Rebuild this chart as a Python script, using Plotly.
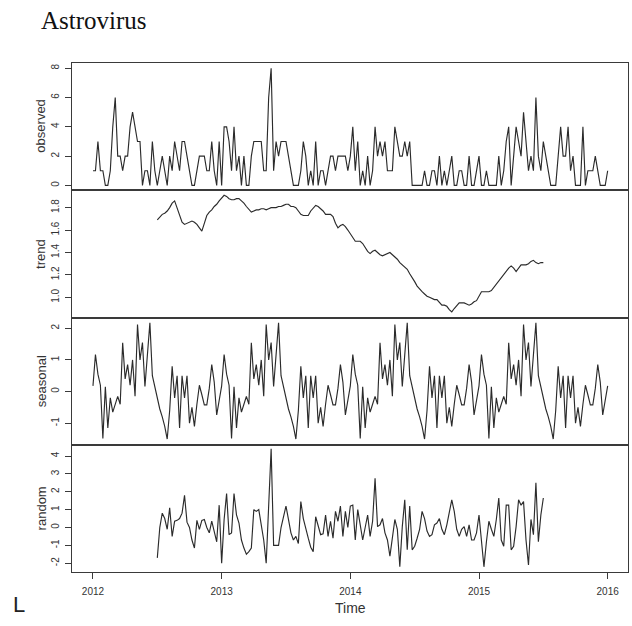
import plotly.graph_objects as go
from plotly.subplots import make_subplots

# ---------------- data (weekly series, frequency 52, starting 2012) ----------------
start_year = 2012
freq = 52

observed = [
    1, 1, 3, 1, 1, 0, 0, 1, 4, 6,
    2, 2, 1, 2, 2, 4, 5, 4, 3, 3,
    0, 1, 1, 0, 3, 1, 0, 1, 2, 1,
    0, 2, 1, 3, 2, 1, 3, 3, 2, 1,
    0, 0, 1, 2, 2, 2, 1, 1, 3, 1,
    0, 3, 0, 4, 4, 3, 1, 4, 1, 2,
    0, 2, 0, 0, 2, 3, 3, 3, 3, 1,
    1, 6, 8, 1, 3, 2, 3, 3, 3, 2,
    1, 0, 0, 0, 1, 3, 2, 0, 1, 0,
    3, 0, 1, 1, 0, 1, 2, 2, 1, 2,
    2, 2, 2, 1, 2, 4, 1, 3, 0, 1,
    0, 2, 0, 1, 4, 2, 3, 2, 3, 1,
    1, 1, 4, 3, 2, 2, 3, 2, 3, 0,
    0, 0, 0, 0, 1, 0, 0, 1, 1, 0,
    2, 0, 1, 0, 1, 2, 0, 0, 1, 1,
    0, 0, 2, 0, 0, 1, 2, 0, 0, 1,
    0, 0, 0, 0, 2, 0, 1, 3, 4, 0,
    2, 4, 3, 2, 5, 3, 1, 2, 1, 6,
    2, 1, 3, 2, 1, 0, 0, 0, 2, 4,
    2, 2, 4, 1, 2, 0, 0, 0, 4, 0,
    1, 1, 1, 2, 1, 0, 0, 0, 1,
]

trend_start = 26
trend = [
    1.69, 1.72, 1.74, 1.75, 1.77, 1.80, 1.84, 1.86, 1.80, 1.73,
    1.67, 1.65, 1.66, 1.67, 1.68, 1.67, 1.65, 1.62, 1.59, 1.66,
    1.73, 1.76, 1.78, 1.81, 1.83, 1.86, 1.89, 1.91, 1.90, 1.88,
    1.87, 1.87, 1.88, 1.88, 1.86, 1.84, 1.81, 1.78, 1.76, 1.77,
    1.78, 1.78, 1.79, 1.79, 1.78, 1.79, 1.80, 1.80, 1.80, 1.81,
    1.81, 1.82, 1.83, 1.83, 1.81, 1.81, 1.80, 1.77, 1.74, 1.73,
    1.73, 1.73, 1.77, 1.80, 1.82, 1.81, 1.79, 1.77, 1.74, 1.74,
    1.74, 1.72, 1.66, 1.62, 1.64, 1.65, 1.63, 1.60, 1.57, 1.53,
    1.50, 1.50, 1.50, 1.48, 1.44, 1.41, 1.39, 1.41, 1.42, 1.40,
    1.38, 1.37, 1.38, 1.39, 1.40, 1.38, 1.36, 1.34, 1.31, 1.29,
    1.27, 1.25, 1.21, 1.18, 1.14, 1.10, 1.07, 1.05, 1.03, 1.01,
    1.00, 0.99, 0.98, 0.98, 0.95, 0.93, 0.93, 0.92, 0.89, 0.87,
    0.90, 0.93, 0.95, 0.95, 0.95, 0.94, 0.93, 0.94, 0.96, 0.97,
    1.01, 1.05, 1.05, 1.05, 1.05, 1.06, 1.09, 1.12, 1.14, 1.18,
    1.21, 1.24, 1.26, 1.28, 1.26, 1.23, 1.26, 1.29, 1.29, 1.29,
    1.30, 1.32, 1.33, 1.31, 1.30, 1.31, 1.31,
]

# one period of the seasonal figure (52 weeks); the component repeats it
seasonal_figure = [
    0.18, 1.17, 0.55, 0.20, -1.48, 0.15, -1.15, -0.20, -0.65, -0.40,
    -0.15, -0.40, 1.54, 0.40, 0.85, 0.20, 1.00, -0.15, 2.12, 1.00,
    1.55, 0.16, 1.10, 2.17, 0.50, 0.15, -0.30, -0.55, -0.80, -1.10,
    -1.50, -0.60, 0.80, -0.20, 0.50, -1.15, 0.50, -0.20, 0.50, -1.00,
    -0.50, -1.10, -0.40, 0.20, -0.10, -0.42, -0.42, 0.10, 0.85, 0.30,
    -0.74, -0.20,
]

random_start = 26
random_part = [
    -1.70, 0.00, 0.80, 0.50, -0.10, 1.10, -0.50, 0.35, 0.40, 0.50,
    0.80, 1.80, 0.30, 0.00, -0.70, -1.15, 0.40, -0.10, 0.40, 0.45,
    0.00, -0.30, 0.35, -0.20, -0.80, 1.25, -2.00, 0.45, 1.90, -0.40,
    -0.30, 1.90, 0.70, 0.25, -0.70, -1.15, -1.50, -1.35, -1.15, 1.00,
    0.90, 1.00, 0.05, -0.70, -2.00, 1.50, 4.40, -1.00, -1.00, -1.00,
    0.00, 0.60, 1.20, 0.45, -0.30, -0.70, -0.50, -0.90, 1.45, 0.50,
    -0.10, -0.60, -1.10, -1.35, 0.60, 0.15, -0.40, -0.35, 0.70, -0.50,
    0.35, -0.60, 0.90, 0.35, 1.20, -0.50, 0.90, 0.00, 1.20, 1.25,
    -0.70, 1.00, 0.15, -0.70, 0.00, 0.70, -0.50, 0.35, 2.75, 0.05,
    0.15, 0.50, -0.30, -0.70, -1.60, -0.70, 0.45, -0.10, -2.20, 0.05,
    1.55, -1.25, 1.20, -1.25, -1.05, -0.60, -0.10, 0.90, 0.50, -0.20,
    -0.50, -0.40, 0.15, 0.25, 0.50, -0.10, -0.40, 0.15, 0.90, 1.55,
    0.90, -0.10, -0.50, -0.10, 0.05, -0.50, 0.15, -0.70, -0.70, -0.30,
    0.70, -0.70, -2.20, -0.80, 0.35, -0.10, -0.50, 0.45, 1.65, -0.70,
    -1.05, 1.25, 1.25, -1.25, -1.05, 0.05, 1.55, 1.25, 1.45, -0.70,
    -2.10, 0.45, -0.40, 2.50, -0.80, 0.70, 1.65,
]

x_ticks = [2012, 2013, 2014, 2015, 2016]
panel_names = ["observed", "trend", "seasonal", "random"]
y_ticks = [
    [0, 2, 4, 6, 8],
    [1.0, 1.2, 1.4, 1.6, 1.8],
    [-1, 0, 1, 2],
    [-2, -1, 0, 1, 2, 3, 4],
]
y_tick_text = [
    ["0", "2", "4", "6", "8"],
    ["1.0", "1.2", "1.4", "1.6", "1.8"],
    ["-1", "0", "1", "2"],
    ["-2", "-1", "0", "1", "2", "3", "4"],
]
y_ranges = [[-0.33, 8.36], [0.82, 1.955], [-1.68, 2.34], [-2.49, 4.63]]

# ---------------- build series on the time axis ----------------
n = len(observed)
t = [start_year + i / freq for i in range(n)]
t_trend = t[trend_start:trend_start + len(trend)]
t_random = t[random_start:random_start + len(random_part)]
seasonal = [seasonal_figure[i % freq] for i in range(n)]

series = [(t, observed), (t_trend, trend), (t, seasonal), (t_random, random_part)]

W, H = 632, 626
ML, MR, MT, MB = 72, 4, 63, 54
PW, PH = W - ML - MR, H - MT - MB

fig = make_subplots(rows=4, cols=1, shared_xaxes=True, vertical_spacing=0)
line_col = "#2b2b2b"
axis_col = "#3a3a3a"
tick_font = dict(family="Arial, Liberation Sans", size=10, color="#333")
for k, (xs, ys) in enumerate(series):
    fig.add_trace(
        go.Scatter(x=xs, y=ys, mode="lines", line=dict(color=line_col, width=1.15),
                   showlegend=False, hoverinfo="skip"),
        row=k + 1, col=1,
    )
    fig.update_yaxes(
        row=k + 1, col=1, range=y_ranges[k], tickvals=y_ticks[k], ticktext=y_tick_text[k],
        tickangle=-90, ticks="outside", ticklen=6, tickwidth=1, tickcolor=axis_col,
        showline=True, linecolor=axis_col, linewidth=1, mirror=True,
        showgrid=False, zeroline=False, automargin=False, ticklabelstandoff=2,
        tickfont=dict(family="Arial, Liberation Sans", size=10, color="#333"),
    )
    fig.update_xaxes(
        row=k + 1, col=1, range=[2011.837, 2016.158], showline=True, linecolor=axis_col,
        linewidth=1, mirror=True, showgrid=False, zeroline=False, automargin=False,
        tickvals=x_ticks, ticktext=[str(v) for v in x_ticks],
        ticks="outside" if k == 3 else "", ticklen=6, tickcolor=axis_col,
        showticklabels=(k == 3), ticklabelstandoff=4,
        tickfont=tick_font,
    )

# panel titles on the left
for k, name in enumerate(panel_names):
    yc = MT + (k + 0.5) * PH / 4
    fig.add_annotation(
        text=name, xref="paper", yref="paper",
        x=(41 - ML) / PW, y=1 - (yc - MT) / PH, textangle=-90,
        xanchor="center", yanchor="middle", showarrow=False,
        font=dict(family="Arial, Liberation Sans", size=13, color="#333"),
    )

fig.add_annotation(
    text="Astrovirus", xref="paper", yref="paper",
    x=(39 - ML) / PW, y=1 + (MT - 21) / PH, xanchor="left", yanchor="middle",
    showarrow=False, font=dict(family="Liberation Serif, Times New Roman", size=25, color="#111"),
)
fig.add_annotation(
    text="Time", xref="paper", yref="paper",
    x=0.5, y=-(608 - (H - MB)) / PH, xanchor="center", yanchor="middle",
    showarrow=False, font=dict(family="Arial, Liberation Sans", size=14, color="#333"),
)
fig.add_annotation(
    text="L", xref="paper", yref="paper",
    x=(11 - ML) / PW, y=-(604 - (H - MB)) / PH, xanchor="left", yanchor="middle",
    showarrow=False, font=dict(family="Arial, Liberation Sans", size=22, color="#222"),
)

fig.update_layout(
    width=W, height=H, margin=dict(l=ML, r=MR, t=MT, b=MB, autoexpand=False),
    paper_bgcolor="white", plot_bgcolor="white",
)

fig.write_html("out.html", config={"displayModeBar": False},
               post_script="document.body.style.margin='0px';")
